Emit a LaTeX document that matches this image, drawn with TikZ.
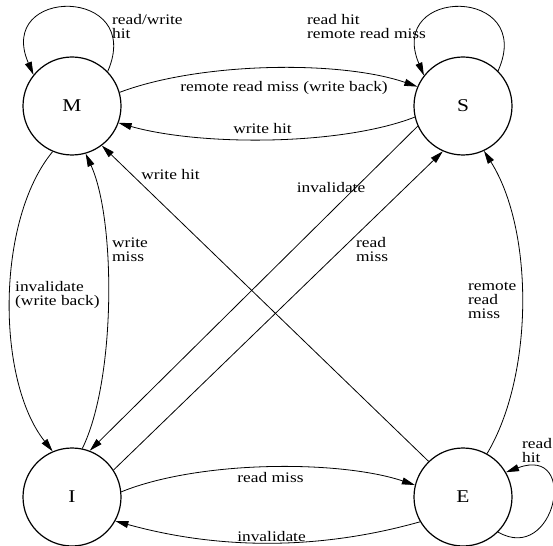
\documentclass[tikz,border=0pt]{standalone}
\usepackage{fontspec}
\setmainfont[FakeStretch=1.19]{Liberation Serif}
\usetikzlibrary{arrows.meta}
\begin{document}
\begin{tikzpicture}[x=1pt,y=-1pt,
  state/.style={circle,draw,line width=1.2pt,minimum size=98pt,inner sep=0pt,font=\fontsize{18}{18}\selectfont},
  trans/.style={line width=0.8pt,-{Triangle[length=13pt,width=7pt]}},
  lbl/.style={inner sep=0pt,font=\fontsize{14.6}{14}\selectfont},
  mlbl/.style={lbl,align=left,anchor=north west}]
\useasboundingbox (0,0) rectangle (553,545);
\node[state] (M) at (72,106) {M};
\node[state] (S) at (463,106) {S};
\node[state] (I) at (72,497) {I};
\node[state] (E) at (463,497) {E};
% M <-> S
\draw[trans] (M.16) .. controls (200,62) and (340,60) .. (S.157);
\draw[trans] (S.193) .. controls (340,146) and (200,146) .. (M.340);
% self loops
\draw[trans] (M.44) .. controls (145,-14) and (-5,-14) .. (M.141);
\draw[trans] (S.45) .. controls (536,-14) and (386,-14) .. (S.142);
\draw[trans] (E.315) .. controls (555,565) and (580,445) .. (E.30);
% M <-> I
\draw[trans] (M.247) .. controls (-4,220) and (-4,380) .. (I.113);
\draw[trans] (I.78) .. controls (116,380) and (116,220) .. (M.286);
% diagonals
\draw[trans] (E.134) -- (M.307);
\draw[trans] (S.204) -- (I.69);
\draw[trans] (I.33) -- (S.246);
% E -> S
\draw[trans] (E.61) .. controls (534,375) and (534,230) .. (S.295);
% I <-> E
\draw[trans] (I.6) .. controls (200,460) and (340,460) .. (E.166);
\draw[trans] (E.210) .. controls (320,550) and (220,550) .. (I.331);
% labels
\node[lbl,anchor=base] (l1) at (284,91.5) {remote read miss (write back)};
\node[lbl,anchor=base] (l2) at (262.5,134) {write hit};
\node[mlbl] (l3) at (112,14) {read/write\\hit};
\node[mlbl] (l4) at (307,14) {read hit\\remote read miss};
\node[mlbl] (l5) at (15,281) {invalidate\\(write back)};
\node[mlbl] (l6) at (112,238) {write\\miss};
\node[lbl,anchor=base] (l7) at (170.5,180) {write hit};
\node[lbl,anchor=base] (l8) at (331,193) {invalidate};
\node[mlbl] (l9) at (356,237) {read\\miss};
\node[mlbl] (l10) at (468,282) {remote\\read\\miss};
\node[lbl,anchor=base] (l11) at (270.5,482) {read miss};
\node[lbl,anchor=base] (l12) at (271.5,541) {invalidate};
\node[mlbl] (l13) at (522,438) {read\\hit};
\end{tikzpicture}
\end{document}
